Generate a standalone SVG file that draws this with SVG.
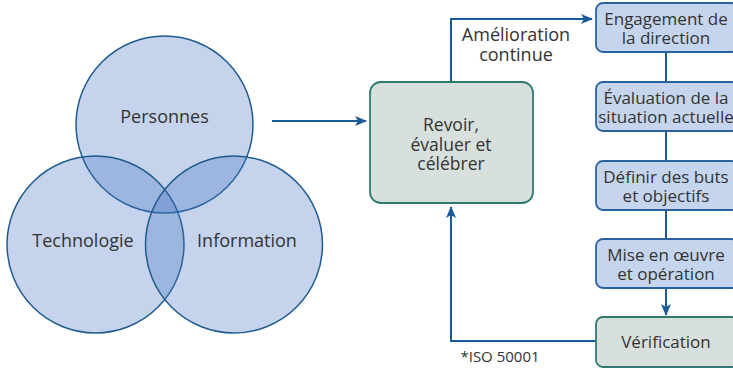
<svg xmlns="http://www.w3.org/2000/svg" width="733" height="368" viewBox="0 0 733 368">
<style>
text{font-family:"Open Sans","Noto Sans","DejaVu Sans",sans-serif;fill:#333333;text-anchor:middle}
.v{font-size:18px}
.r{font-size:17.5px}
.t{font-size:17px}
.s{font-size:15px}
.venn{fill:#4474c2;fill-opacity:0.31;stroke:#1f5b8e;stroke-width:1.5}
.blue{fill:#c6d5ee;stroke:#2a62a0;stroke-width:1.8}
.grey{fill:#d8e0dd;stroke:#2d7a70;stroke-width:1.8}
.con{fill:none;stroke:#1a5a96;stroke-width:2}
</style>
<defs>
<marker id="ah" viewBox="0 0 12 10" refX="11" refY="5" markerWidth="12" markerHeight="10" markerUnits="userSpaceOnUse" orient="auto">
<path d="M0,0 L12,5 L0,10 L3,5 z" fill="#1a5a96"/>
</marker>
</defs>
<g id="venn">
<g id="personnes"><circle class="venn" cx="164.5" cy="124.5" r="88.5"/></g>
<g id="technologie"><circle class="venn" cx="95.5" cy="244.5" r="88.5"/></g>
<g id="information"><circle class="venn" cx="234" cy="244.5" r="88.5"/></g>
<text class="v" x="164.5" y="123">Personnes</text>
<text class="v" x="83" y="247">Technologie</text>
<text class="v" x="247" y="247">Information</text>
</g>
<g id="connectors">
<path class="con" d="M272,121 L366,121" marker-end="url(#ah)"/>
<path class="con" d="M451,82 L451,19 L592,19" marker-end="url(#ah)"/>
<path class="con" d="M666,52 L666,82 M666,131 L666,161 M666,210 L666,239"/>
<path class="con" d="M666,288 L666,315" marker-end="url(#ah)"/>
<path class="con" d="M596,341 L451,341 L451,207" marker-end="url(#ah)"/>
</g>
<g id="label-amelioration">
<text class="v" x="516" y="41">Amélioration</text>
<text class="v" x="516" y="61">continue</text>
</g>
<g id="revoir">
<rect class="grey" x="370" y="82" width="163" height="121" rx="11"/>
<text class="r" x="451" y="131">Revoir,</text>
<text class="r" x="451" y="150.5">évaluer et</text>
<text class="r" x="451" y="170">célébrer</text>
</g>
<g id="engagement">
<rect class="blue" x="596" y="3" width="142" height="49" rx="7"/>
<text class="t" x="666" y="25">Engagement de</text>
<text class="t" x="666" y="44">la direction</text>
</g>
<g id="evaluation">
<rect class="blue" x="596" y="82" width="142" height="49" rx="7"/>
<text class="t" x="666" y="104">Évaluation de la</text>
<text class="t" x="666" y="123">situation actuelle</text>
</g>
<g id="definir">
<rect class="blue" x="596" y="161" width="142" height="49" rx="7"/>
<text class="t" x="666" y="183">Définir des buts</text>
<text class="t" x="666" y="202">et objectifs</text>
</g>
<g id="mise">
<rect class="blue" x="596" y="239" width="142" height="49" rx="7"/>
<text class="t" x="666" y="261">Mise en œuvre</text>
<text class="t" x="666" y="280">et opération</text>
</g>
<g id="verification">
<rect class="grey" x="596" y="317" width="142" height="50" rx="7"/>
<text class="t" x="666" y="348">Vérification</text>
</g>
<text class="s" x="500" y="362">*ISO 50001</text>
</svg>
